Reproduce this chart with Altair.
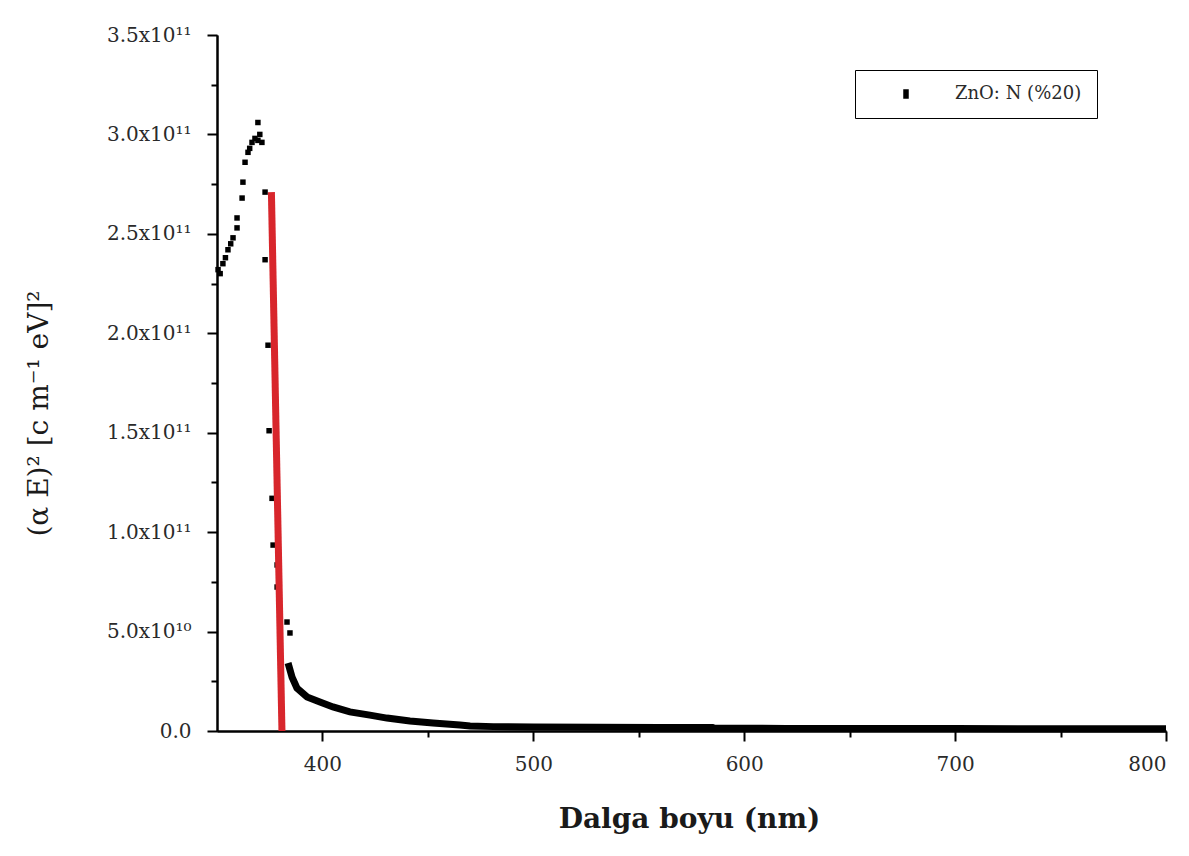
import altair as alt
import pandas as pd

# ---------------- data (y values in units of 1e11) ----------------
pts_x = [350.5, 351.5, 352.8, 354.0, 355.2, 356.5, 357.6, 359.5, 359.5, 361.9,
         362.3, 363.3, 364.7, 365.5, 366.6, 368.0, 369.4, 369.4, 370.3, 371.3,
         372.8, 372.8, 374.2, 374.7, 376.1, 376.6, 378.5, 378.5, 383.2, 384.6]
pts_y = [2.32, 2.30, 2.35, 2.38, 2.42, 2.45, 2.48, 2.53, 2.58, 2.68,
         2.76, 2.86, 2.91, 2.93, 2.96, 2.98, 2.97, 3.06, 3.00, 2.96,
         2.71, 2.37, 1.94, 1.51, 1.17, 0.935, 0.835, 0.724, 0.548, 0.493]

tail_x = [383.7, 385.6, 387.9, 392.7, 398.8, 405, 413, 422.5, 430.6, 441.5,
          452.4, 465.2, 470, 481, 500, 530, 560, 585, 586, 620, 660, 700, 750, 800]
tail_y = [0.342, 0.27, 0.216, 0.171, 0.146, 0.121, 0.096, 0.080, 0.065, 0.050,
          0.040, 0.030, 0.025, 0.022, 0.020, 0.019, 0.018, 0.018, 0.014, 0.013,
          0.012, 0.012, 0.011, 0.011]

fit_x = [375.8, 380.8]
fit_y = [2.71, 0.0]

series_name = "ZnO: N (%20)"

x_major = [400, 500, 600, 700, 800]
x_minor = [450, 550, 650, 750]
y_major = [0, 0.5, 1.0, 1.5, 2.0, 2.5, 3.0, 3.5]
y_minor = [0.25, 0.75, 1.25, 1.75, 2.25, 2.75, 3.25]
y_tick_labels = ["0.0", "5.0x10¹⁰", "1.0x10¹¹", "1.5x10¹¹", "2.0x10¹¹",
                 "2.5x10¹¹", "3.0x10¹¹", "3.5x10¹¹"]

UNIT = 1e11
FONT = "DejaVu Serif"
TXT = "#2a2a2a"

df_pts = pd.DataFrame({"x": pts_x, "y": [v * UNIT for v in pts_y], "series": series_name})
df_tail = pd.DataFrame({"x": tail_x, "y": [v * UNIT for v in tail_y]})
df_fit = pd.DataFrame({"x": fit_x, "y": [v * UNIT for v in fit_y]})

xs = alt.Scale(domain=[350, 800], nice=False, zero=False)
ys = alt.Scale(domain=[0, 3.5 * UNIT], nice=False)

label_arr = "[" + ",".join("'" + s + "'" for s in y_tick_labels) + "]"

# minor ticks axes, drawn with the tail layer
tail = alt.Chart(df_tail).mark_line(color="black", strokeWidth=7).encode(
    x=alt.X("x:Q", scale=xs, axis=alt.Axis(
        orient="bottom", values=x_minor, labels=False, title=None,
        tickSize=6, tickWidth=2, tickColor="black", domainWidth=2, domainColor="black", grid=False)),
    y=alt.Y("y:Q", scale=ys, axis=alt.Axis(
        orient="left", values=[v * UNIT for v in y_minor], labels=False, title=None,
        tickSize=6, tickWidth=2, tickColor="black", domainWidth=2, domainColor="black", grid=False)),
)

points = alt.Chart(df_pts).mark_square(size=30, opacity=1).encode(
    x=alt.X("x:Q", scale=xs, axis=alt.Axis(
        orient="bottom", values=x_major, format="d",
        labelFont=FONT, labelFontSize=20, labelColor=TXT, labelPadding=13,
        tickSize=10, tickWidth=2, tickColor="black", domainWidth=2, domainColor="black",
        grid=False,
        title="Dalga boyu (nm)", titleFont=FONT, titleFontSize=28, titleFontWeight="bold",
        titleColor="#1a1a1a", titleX=472, titleY=74, titleAlign="center", titleBaseline="top")),
    y=alt.Y("y:Q", scale=ys, axis=alt.Axis(
        orient="left", values=[v * UNIT for v in y_major],
        labelExpr=label_arr + "[round(datum.value/5e10)]",
        labelFont=FONT, labelFontSize=20, labelColor=TXT, labelPadding=16,
        tickSize=10, tickWidth=2, tickColor="black", domainWidth=2, domainColor="black",
        grid=False,
        title="(α E)² [c m⁻¹ eV]²", titleFont=FONT, titleFontSize=28, titleFontWeight="normal",
        titleColor="#1a1a1a", titleAngle=270, titleX=-164, titleY=378,
        titleAlign="center", titleBaseline="bottom")),
    color=alt.Color("series:N", scale=alt.Scale(range=["black"]), legend=alt.Legend(
        title=None, orient="none", legendX=638, legendY=35,
        labelFont=FONT, labelFontSize=18, labelColor=TXT,
        symbolType="M-0.5,-1L0.5,-1L0.5,1L-0.5,1Z", symbolSize=64,
        symbolFillColor="black", symbolStrokeColor="black",
        symbolOffset=27, labelOffset=40, padding=15,
        strokeColor="black")),
)

fit = alt.Chart(df_fit).mark_line(color="#d8262c", strokeWidth=7).encode(
    x=alt.X("x:Q", scale=xs, axis=None),
    y=alt.Y("y:Q", scale=ys, axis=None),
)

chart = alt.layer(tail, points, fit).resolve_scale(
    x="independent", y="independent"
).properties(
    width=949, height=696,
    background="white",
    autosize=alt.AutoSizeParams(type="none"),
    padding={"left": 209, "top": 27, "right": 15, "bottom": 115},
).configure_view(stroke=None)

chart.save("out.html", embed_options={"renderer": "svg", "actions": False})
